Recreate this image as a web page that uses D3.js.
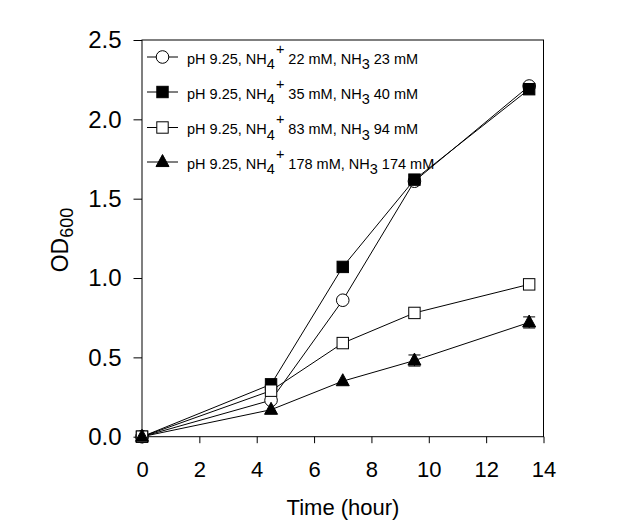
<!DOCTYPE html>
<html><head><meta charset="utf-8">
<script src="https://cdn.jsdelivr.net/npm/d3@7"></script>
<style>body{margin:0;background:#fff}svg{display:block;font-family:"Liberation Sans",Arial,sans-serif}</style>
</head><body><svg id="c" width="631" height="529"></svg>
<script>
const times = [0, 4.5, 7, 9.5, 13.5];
const s1 = [0, 0.23, 0.86, 1.61, 2.21];   // open circle
const s2 = [0, 0.33, 1.07, 1.62, 2.19];   // filled square
const s3 = [0, 0.29, 0.59, 0.78, 0.96];   // open square
const s4 = [0, 0.17, 0.35, 0.48, 0.72];   // filled triangle
const s4err = [0, 0, 0, 0.035, 0.035];
const legendNH4 = ["22", "35", "83", "178"];
const legendNH3 = ["23", "40", "94", "174"];
const xTicks = [0, 2, 4, 6, 8, 10, 12, 14];
const yTicks = [0, 0.5, 1.0, 1.5, 2.0, 2.5];

const svg = d3.select("#c");
const L = 142, R = 543.5, T = 40, B = 436.7;
const x = d3.scaleLinear().domain([0, 14]).range([L, R]);
const y = d3.scaleLinear().domain([0, 2.5]).range([B, T]);

svg.append("rect").attr("x", L).attr("y", T).attr("width", R - L).attr("height", B - T)
  .attr("fill", "none").attr("stroke", "#000").attr("stroke-width", 1);

const xa = svg.append("g").attr("transform", `translate(0,${B})`)
  .call(d3.axisBottom(x).tickValues(xTicks).tickSize(6.5).tickPadding(18.5).tickFormat(d3.format("d")));
const ya = svg.append("g").attr("transform", `translate(${L},0)`)
  .call(d3.axisLeft(y).tickValues(yTicks).tickSize(8.5).tickPadding(12).tickFormat(d3.format(".1f")));
[xa, ya].forEach(a => {
  a.select(".domain").remove();
  a.selectAll("text").attr("font-family", "Liberation Sans, Arial, sans-serif").attr("fill", "#000");
  a.selectAll("line").attr("stroke", "#000");
});
xa.selectAll("text").attr("font-size", 22);
ya.selectAll("text").attr("font-size", 24);

svg.append("text").attr("x", 343).attr("y", 515).attr("text-anchor", "middle")
  .attr("font-size", 22).text("Time (hour)");
const yl = svg.append("text").attr("transform", "translate(68,240) rotate(-90)")
  .attr("text-anchor", "middle").attr("font-size", 23);
yl.append("tspan").text("OD");
yl.append("tspan").attr("font-size", 18).attr("dy", 5).text("600");

const series = [
  {v: s1, shape: "circle", fill: "#fff"},
  {v: s2, shape: "square", fill: "#000"},
  {v: s3, shape: "square", fill: "#fff"},
  {v: s4, shape: "triangle", fill: "#000", err: s4err}
];
const line = d3.line().x((d, i) => x(times[i])).y(d => y(d));

function marker(g, shape, fill, cx, cy) {
  if (shape === "circle") {
    g.append("circle").attr("cx", cx).attr("cy", cy).attr("r", 6.3)
      .attr("fill", fill).attr("stroke", "#000").attr("stroke-width", 1);
  } else if (shape === "square") {
    g.append("rect").attr("x", cx - 5.7).attr("y", cy - 5.7).attr("width", 11.4).attr("height", 11.4)
      .attr("fill", fill).attr("stroke", "#000").attr("stroke-width", 1);
  } else {
    const h = 12, w = 13;
    g.append("path").attr("d", `M${cx},${cy - h * 0.62}L${cx + w / 2},${cy + h * 0.38}L${cx - w / 2},${cy + h * 0.38}Z`)
      .attr("fill", fill).attr("stroke", "#000").attr("stroke-width", 1);
  }
}

const plot = svg.append("g");
series.forEach(s => {
  plot.append("path").datum(s.v).attr("d", line).attr("fill", "none").attr("stroke", "#000").attr("stroke-width", 1);
});
series.forEach(s => {
  const g = plot.append("g");
  if (s.err) {
    s.v.forEach((v, i) => {
      if (!s.err[i]) return;
      const cx = x(times[i]);
      g.append("line").attr("x1", cx).attr("x2", cx).attr("y1", y(v - s.err[i])).attr("y2", y(v + s.err[i])).attr("stroke", "#000");
      [v - s.err[i], v + s.err[i]].forEach(e => g.append("line").attr("x1", cx - 6).attr("x2", cx + 6)
        .attr("y1", y(e)).attr("y2", y(e)).attr("stroke", "#000"));
    });
  }
  s.v.forEach((v, i) => marker(g, s.shape, s.fill, x(times[i]), y(v)));
});

// legend
const lg = svg.append("g");
const rowsY = [57, 92, 127.5, 162];
series.forEach((s, i) => {
  const yy = rowsY[i];
  lg.append("line").attr("x1", 147).attr("x2", 178).attr("y1", yy).attr("y2", yy).attr("stroke", "#000");
  marker(lg, s.shape, s.fill, 162.5, yy);
  const t = lg.append("text").attr("x", 187).attr("y", yy + 6.5).attr("font-size", 14.5);
  t.append("tspan").text("pH 9.25, NH");
  t.append("tspan").attr("dy", 5.5).text("4");
  t.append("tspan").attr("dy", -15.5).attr("dx", 1).text("+");
  t.append("tspan").attr("dy", 10).text(" " + legendNH4[i] + " mM, NH");
  t.append("tspan").attr("dy", 5.5).text("3");
  t.append("tspan").attr("dy", -5.5).text(" " + legendNH3[i] + " mM");
});
</script></body></html>
